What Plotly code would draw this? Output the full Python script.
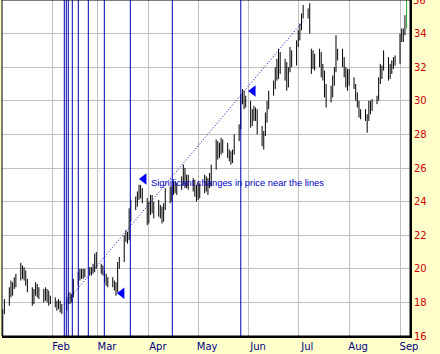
import pandas as pd
import plotly.graph_objects as go

# ---------------- data ----------------
dates = pd.bdate_range("2003-01-02", "2003-09-05")

opens = [
    16.2,17.4,18.0,18.7,18.5,19.0,19.3,19.6,20.0,19.6,19.8,19.2,18.8,18.2,18.6,19.0,18.5,18.7,18.2,18.6,18.3,18.0,
    18.2,17.9,17.7,18.0,17.6,17.6,18.1,18.4,18.1,18.4,19.2,19.6,19.5,19.9,19.7,19.8,19.8,20.0,19.9,20.7,
    20.3,19.9,19.8,19.4,19.2,19.4,19.0,18.9,18.7,20.2,20.5,21.8,22.0,21.8,23.4,23.9,24.0,24.4,24.7,24.5,24.1,
    22.9,23.8,24.2,23.5,23.8,23.4,23.6,22.9,23.7,24.5,24.2,24.7,25.0,24.8,24.9,25.3,25.8,25.1,25.4,24.9,25.2,24.5,
    24.8,24.4,24.9,25.3,24.9,25.2,25.0,26.0,27.3,26.9,27.2,27.0,27.4,26.8,26.6,26.5,26.9,27.8,28.4,30.1,30.2,29.9,
    30.0,28.7,29.3,29.0,29.4,28.3,27.6,28.0,29.1,29.8,30.4,31.0,31.8,31.5,32.6,32.0,31.6,31.0,31.8,32.8,32.4,
    33.4,34.0,34.4,35.0,35.4,35.3,33.0,32.6,32.2,32.5,32.8,31.7,31.5,30.5,30.0,30.7,31.2,31.8,33.0,32.7,32.5,31.7,31.2,
    31.5,31.1,31.0,30.3,29.8,29.2,29.3,29.0,28.9,29.7,29.5,29.9,30.1,31.2,31.6,31.9,32.4,31.5,31.9,32.1,32.4,
    32.3,33.8,33.9,34.1,34.9,
]
highs = [
    17.6,18.2,18.9,19.3,19.2,19.5,19.7,20.35,20.2,20.1,19.9,19.4,18.9,18.8,19.2,19.1,18.9,18.8,18.9,18.8,18.7,18.4,
    18.3,18.1,18.2,18.1,17.9,18.3,18.6,18.6,18.5,19.4,19.8,20.0,20.0,20.0,20.0,20.1,20.1,20.3,20.9,21.0,
    20.3,20.2,19.9,19.7,19.5,19.5,19.3,19.2,20.4,20.7,22.0,22.3,22.2,23.6,24.1,24.3,24.6,25.0,25.0,24.8,24.2,
    24.0,24.4,24.4,24.0,24.1,23.8,23.7,23.9,24.8,24.9,24.9,25.2,25.2,25.1,25.5,26.2,26.0,25.6,25.6,25.4,25.3,25.0,
    25.2,25.1,25.6,25.5,25.4,25.7,26.2,27.7,27.6,27.5,27.8,27.7,27.5,27.1,27.0,27.1,28.0,28.6,30.4,30.7,30.6,30.3,
    30.0,29.5,29.7,29.6,29.5,28.5,28.2,29.3,30.0,30.6,31.2,32.0,32.5,33.1,32.9,32.5,32.3,32.0,33.2,33.0,33.6,
    34.2,34.6,35.2,35.7,35.5,35.8,33.1,33.0,32.8,33.1,32.9,32.2,31.8,31.0,30.9,31.5,32.0,33.9,33.1,33.1,32.6,32.0,31.9,
    31.9,31.4,31.0,30.5,30.0,29.5,29.5,29.2,30.0,30.0,30.1,30.3,31.4,32.2,32.1,33.0,32.6,32.2,32.4,32.6,32.7,
    34.0,34.3,34.3,35.1,36.3,
]
lows = [
    16.0,17.3,17.8,18.3,18.4,18.8,18.9,19.3,19.4,19.3,19.0,18.6,17.8,17.9,18.4,18.3,18.2,18.0,18.1,18.0,17.8,17.9,
    17.7,17.5,17.6,17.4,17.3,17.5,17.9,17.9,18.0,18.3,19.0,19.3,19.4,19.4,19.5,19.6,19.6,19.7,19.8,20.0,
    19.7,19.6,19.2,19.0,18.9,18.9,18.7,18.4,18.6,20.0,20.4,21.6,21.5,21.7,22.8,23.5,23.7,24.1,24.2,23.9,22.6,
    22.7,23.2,23.3,23.0,23.1,23.0,22.7,22.8,23.5,23.9,24.0,24.4,24.5,24.4,24.7,25.0,24.8,24.8,24.7,24.6,24.3,24.0,
    24.1,24.2,24.5,24.6,24.4,24.8,24.9,25.9,26.5,26.6,26.8,26.9,26.6,26.4,26.2,26.3,26.8,27.6,28.3,29.8,29.5,29.6,
    28.4,28.5,28.8,28.8,28.0,27.3,27.1,27.9,28.7,29.5,30.3,30.7,31.2,31.3,31.6,31.2,30.6,30.8,31.7,32.0,32.1,
    33.2,33.6,34.2,34.9,34.9,34.0,31.6,31.9,31.8,32.0,31.4,31.2,30.2,29.6,29.9,30.2,30.9,31.7,32.4,32.0,31.4,30.8,30.6,
    30.9,30.7,30.0,29.6,29.0,28.9,28.8,28.1,28.8,29.2,29.4,29.8,30.0,31.0,31.3,31.8,31.2,31.3,31.6,31.9,32.1,
    32.2,33.5,33.5,33.9,34.3,
]
closes = [
    17.4,18.0,18.7,18.5,19.0,19.3,19.5,20.0,19.6,19.9,19.2,18.8,18.1,18.6,19.0,18.5,18.7,18.2,18.6,18.3,18.0,18.2,
    17.9,17.7,18.0,17.6,17.5,18.1,18.4,18.1,18.4,19.2,19.6,19.5,19.9,19.7,19.8,19.8,20.0,19.9,20.7,20.3,
    19.9,19.8,19.4,19.2,19.4,19.0,18.9,18.6,20.2,20.4,21.8,22.0,21.8,23.4,23.9,24.0,24.4,24.7,24.5,24.1,22.9,
    23.8,24.2,23.5,23.8,23.4,23.6,22.9,23.7,24.5,24.2,24.7,25.0,24.8,24.9,25.3,25.8,25.1,25.4,24.9,25.2,24.5,24.8,
    24.4,24.9,25.3,24.9,25.2,25.0,26.0,27.3,26.9,27.2,27.0,27.4,26.8,26.6,26.5,26.9,27.8,28.4,30.1,30.2,29.9,30.0,
    28.7,29.3,29.0,29.4,28.3,27.6,28.0,29.1,29.8,30.2,31.0,31.8,31.5,32.6,32.0,31.6,31.0,31.8,32.8,32.4,33.4,
    34.0,34.4,35.0,35.4,35.1,34.2,32.6,32.2,32.5,32.8,31.7,31.5,30.5,30.0,30.7,31.2,31.8,33.0,32.7,32.5,31.7,31.2,31.5,
    31.1,31.0,30.3,29.8,29.2,29.3,29.0,28.9,29.7,29.5,29.9,30.1,31.2,31.6,31.9,32.4,31.5,31.9,32.1,32.4,32.3,
    33.8,33.9,34.1,34.9,35.8,
]

# Fibonacci-style time lines
time_lines = [
    "2003-02-08 12:00", "2003-02-09 17:00", "2003-02-10 22:00", "2003-02-13 09:00",
    "2003-02-17 00:30", "2003-02-23 03:00", "2003-03-04 21:00", "2003-03-20 17:00",
    "2003-04-15 07:00", "2003-05-27 00:00",
]
# dotted trend line
trend_dates = ["2003-02-08 07:00", "2003-07-04 12:00"]
trend_prices = [17.85, 34.8]
# arrow markers
marker_dates = ["2003-03-15 14:00", "2003-03-29 00:00", "2003-06-03 12:00"]
marker_prices = [18.55, 25.34, 30.58]

note_text = "Significant changes in price near the lines"
note_date = "2003-04-01 08:00"
note_price = 25.16

month_ticks = ["2003-02-01", "2003-03-01", "2003-04-01", "2003-05-01",
               "2003-06-01", "2003-07-01", "2003-08-01", "2003-09-01"]
month_labels = ["Feb", "Mar", "Apr", "May", "Jun", "Jul", "Aug", "Sep"]
price_ticks = [16, 18, 20, 22, 24, 26, 28, 30, 32, 34, 36]
top_label = "36"

# ---------------- figure ----------------
fig = go.Figure()

for d in time_lines:
    fig.add_vline(x=d, line=dict(color="#0000B4", width=1), layer="above")

n = len(dates)
fig.add_trace(go.Ohlc(
    x=dates[:n - 1], open=opens[:n - 1], high=highs[:n - 1], low=lows[:n - 1], close=closes[:n - 1],
    increasing=dict(line=dict(color="black", width=1)),
    decreasing=dict(line=dict(color="black", width=1)),
    tickwidth=0.5, showlegend=False, hoverinfo="skip",
))
fig.add_trace(go.Ohlc(
    x=dates[n - 1:], open=opens[n - 1:], high=highs[n - 1:], low=lows[n - 1:], close=closes[n - 1:],
    increasing=dict(line=dict(color="#22AA22", width=1)),
    decreasing=dict(line=dict(color="#22AA22", width=1)),
    tickwidth=0.5, showlegend=False, hoverinfo="skip",
))

fig.add_trace(go.Scatter(
    x=trend_dates, y=trend_prices, mode="lines",
    line=dict(color="#0000B4", width=1, dash="1px,2px"),
    showlegend=False, hoverinfo="skip",
))
fig.add_trace(go.Scatter(
    x=marker_dates, y=marker_prices, mode="markers",
    marker=dict(symbol="triangle-left", size=10, color="#0000FF"),
    showlegend=False, hoverinfo="skip",
))

fig.add_annotation(
    x=note_date, y=note_price, text=note_text, showarrow=False,
    xanchor="left", yanchor="middle",
    font=dict(family="Liberation Sans, Arial", size=9.4, color="#0000C0"),
)

# partly visible top price label
fig.add_annotation(
    xref="paper", x=1, y=price_ticks[-1], text=top_label, showarrow=False,
    xanchor="left", yanchor="middle", xshift=1,
    font=dict(family="DejaVu Sans", size=10, color="#CC0000"),
)

# thin border top / left
fig.add_shape(type="rect", xref="paper", yref="paper", x0=0, y0=0, x1=1, y1=1,
              line=dict(color="black", width=1), layer="above")

fig.update_layout(
    width=440, height=354,
    margin=dict(l=2, r=30, t=0, b=18),
    paper_bgcolor="#FFFFCC",
    plot_bgcolor="white",
    showlegend=False,
    xaxis=dict(
        type="date",
        range=["2003-01-01 13:00", "2003-09-07 02:00"],
        rangeslider=dict(visible=False),
        tickvals=month_ticks, ticktext=month_labels,
        ticklabelshift=9,
        showgrid=True, gridcolor="#C0C0C0", gridwidth=1,
        ticks="", zeroline=False,
        showline=True, linecolor="black", linewidth=2,
        tickfont=dict(family="DejaVu Sans", size=10, color="#000080"),
    ),
    yaxis=dict(
        side="right",
        range=[16, 36],
        tickvals=price_ticks,
        showgrid=True, gridcolor="#C0C0C0", gridwidth=1,
        ticks="", zeroline=False,
        showline=True, linecolor="black", linewidth=2,
        tickfont=dict(family="DejaVu Sans", size=10, color="#CC0000"),
    ),
)

fig.write_html("out.html")
